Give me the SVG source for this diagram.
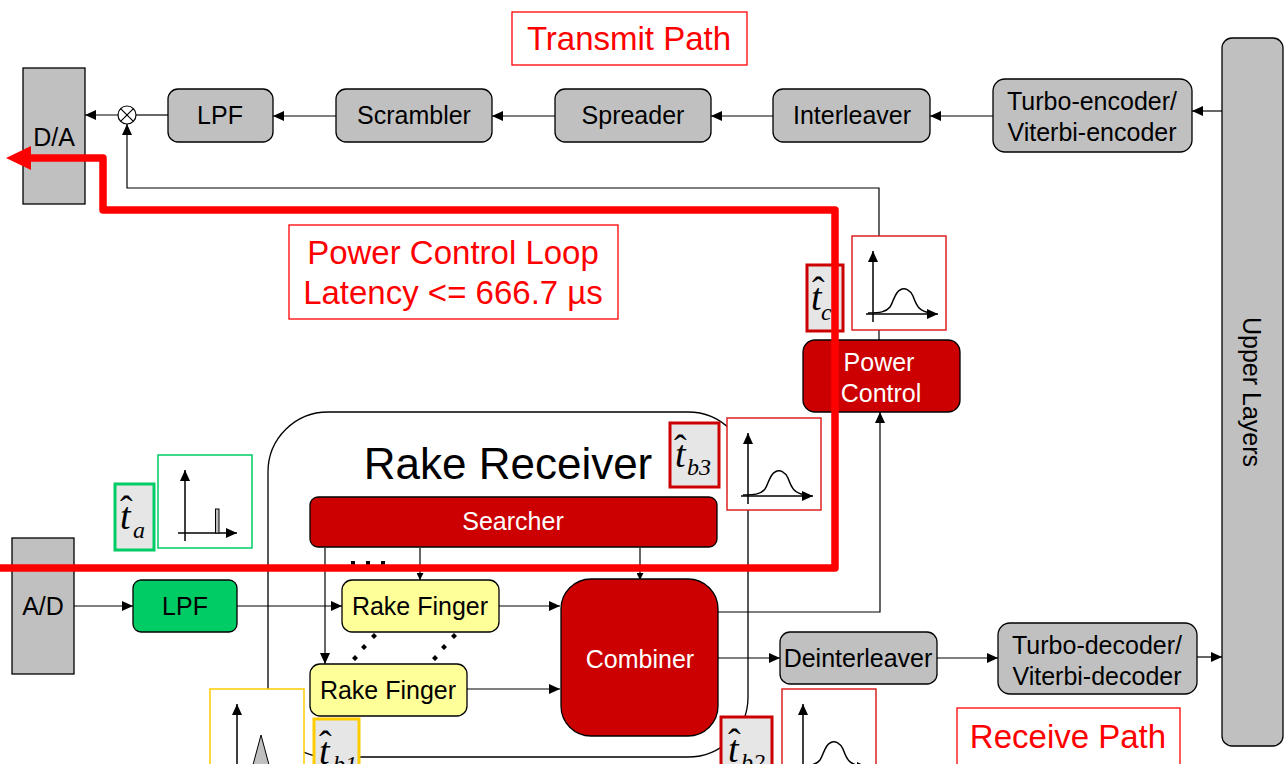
<svg xmlns="http://www.w3.org/2000/svg" width="1284" height="764" viewBox="0 0 1284 764">
<defs>
<style>
.box{fill:#c0c0c0;stroke:#000;stroke-width:1.3}
.dred{fill:#cc0000;stroke:#000;stroke-width:1.3}
.lbl{font-family:"Liberation Sans",Arial,sans-serif;font-size:25px;text-anchor:middle;fill:#000}
.wl{fill:#fff}
.rt{font-family:"Liberation Sans",Arial,sans-serif;font-size:33px;text-anchor:middle;fill:#ff0000}
.note{fill:#fff;stroke:#ff0000;stroke-width:1.3}
.wire{fill:none;stroke:#000;stroke-width:1.2}
.tb{fill:#e6e6e6;stroke-width:3}
.tv{font-family:"Liberation Serif","Times New Roman",serif;font-style:italic;font-size:38px;fill:#000}
.hat{font-family:"Liberation Serif","Times New Roman",serif;font-size:38px;fill:#000}
.ts{font-family:"Liberation Serif","Times New Roman",serif;font-style:italic;font-size:24px;fill:#000}
.gbox{fill:#fff;stroke-width:1.5}
.axis{stroke:#000;stroke-width:1.5;fill:none}
</style>
<marker id="arr" markerUnits="userSpaceOnUse" markerWidth="12" markerHeight="10" refX="11" refY="5" orient="auto"><path d="M0,0 L11,5 L0,10 z" fill="#000"/></marker>
<marker id="arrS" markerUnits="userSpaceOnUse" markerWidth="8" markerHeight="7" refX="7" refY="3.5" orient="auto"><path d="M0,0 L7,3.5 L0,7 z" fill="#000"/></marker>
<marker id="ax" markerUnits="userSpaceOnUse" markerWidth="12" markerHeight="10" refX="11" refY="5" orient="auto"><path d="M0,0 L11,5 L0,10 z" fill="#000"/></marker>
<!-- density plot with a smooth peak, drawn relative to its frame's top-left corner -->
<g id="bell">
<line class="axis" x1="21" y1="86" x2="21" y2="15" marker-end="url(#ax)"/>
<line class="axis" x1="14" y1="78" x2="86" y2="78" marker-end="url(#ax)"/>
<path class="axis" d="M16,77 C28,77 34,76 38,71 C41,67 43,56 48,54 C53,51 58,54 61,60 C64,68 66,76 80,77"/>
</g>
</defs>

<rect width="1284" height="764" fill="#fff"/>

<!-- Rake receiver enclosure -->
<g id="rake-receiver">
<rect x="268" y="412" width="480" height="345" rx="60" ry="60" fill="none" stroke="#000" stroke-width="1.3"/>
<text x="508" y="479" font-family="Liberation Sans,Arial,sans-serif" font-size="44" text-anchor="middle">Rake Receiver</text>
</g>

<!-- connectors -->
<g id="connectors">
<line class="wire" x1="118" y1="115" x2="85" y2="115" marker-end="url(#arr)"/>
<line class="wire" x1="168" y1="115" x2="136" y2="115"/>
<line class="wire" x1="336" y1="116" x2="273" y2="116" marker-end="url(#arr)"/>
<line class="wire" x1="555" y1="116" x2="492" y2="116" marker-end="url(#arr)"/>
<line class="wire" x1="773" y1="116" x2="711" y2="116" marker-end="url(#arr)"/>
<line class="wire" x1="993" y1="116" x2="930" y2="116" marker-end="url(#arr)"/>
<line class="wire" x1="1222" y1="111" x2="1192" y2="111" marker-end="url(#arr)"/>
<path class="wire" d="M879,340 V188 H127 V124" marker-end="url(#arr)"/>
<path class="wire" d="M718,612 H880 V412" marker-end="url(#arr)"/>
<line class="wire" x1="74" y1="606" x2="133" y2="606" marker-end="url(#arr)"/>
<line class="wire" x1="237" y1="606" x2="342" y2="606" marker-end="url(#arr)"/>
<line class="wire" x1="499" y1="606" x2="560" y2="606" marker-end="url(#arr)"/>
<line class="wire" x1="467" y1="689" x2="560" y2="689" marker-end="url(#arr)"/>
<line class="wire" x1="718" y1="658" x2="780" y2="658" marker-end="url(#arr)"/>
<line class="wire" x1="937" y1="658" x2="998" y2="658" marker-end="url(#arr)"/>
<line class="wire" x1="1197" y1="657" x2="1222" y2="657" marker-end="url(#arr)"/>
<line class="wire" x1="325" y1="548" x2="325" y2="664" marker-end="url(#arr)"/>
<line class="wire" x1="420" y1="548" x2="420" y2="580" marker-end="url(#arrS)"/>
<line class="wire" x1="640" y1="548" x2="640" y2="580" marker-end="url(#arrS)"/>
<!-- further fingers -->
<g fill="#000">
<rect x="351" y="561" width="4" height="4"/><rect x="366" y="561" width="4" height="4"/><rect x="381" y="561" width="4" height="4"/>
<path d="M374,633 l3,3 l-3,3 l-3,-3 z M364,644 l3,3 l-3,3 l-3,-3 z M355,655 l3,3 l-3,3 l-3,-3 z"/>
<path d="M454,633 l3,3 l-3,3 l-3,-3 z M444,644 l3,3 l-3,3 l-3,-3 z M435,655 l3,3 l-3,3 l-3,-3 z"/>
</g>
</g>

<!-- transmit chain -->
<g id="da"><rect class="box" x="23" y="68" width="62" height="136"/><text class="lbl" x="54" y="146">D/A</text></g>
<g id="mixer"><circle cx="127" cy="115" r="9" fill="#fff" stroke="#000" stroke-width="1.2"/><path d="M120.6,108.6 L133.4,121.4 M133.4,108.6 L120.6,121.4" stroke="#000" stroke-width="1.2"/></g>
<g id="tx-lpf"><rect class="box" x="168" y="89" width="105" height="53" rx="10"/><text class="lbl" x="220" y="124">LPF</text></g>
<g id="scrambler"><rect class="box" x="336" y="89" width="156" height="53" rx="10"/><text class="lbl" x="414" y="124">Scrambler</text></g>
<g id="spreader"><rect class="box" x="555" y="89" width="156" height="53" rx="10"/><text class="lbl" x="633" y="124">Spreader</text></g>
<g id="interleaver"><rect class="box" x="773" y="89" width="157" height="53" rx="10"/><text class="lbl" x="852" y="124">Interleaver</text></g>
<g id="encoder"><rect class="box" x="993" y="79" width="199" height="73" rx="12"/><text class="lbl" x="1092" y="110">Turbo-encoder/</text><text class="lbl" x="1092" y="141">Viterbi-encoder</text></g>
<g id="upper-layers"><rect class="box" x="1222" y="38" width="61" height="708" rx="10"/><text class="lbl" transform="translate(1243,392) rotate(90)" x="0" y="0">Upper Layers</text></g>

<!-- receive chain -->
<g id="ad"><rect class="box" x="12" y="538" width="62" height="136"/><text class="lbl" x="43" y="615">A/D</text></g>
<g id="rx-lpf"><rect x="133" y="580" width="104" height="52" rx="8" fill="#00cc66" stroke="#000" stroke-width="1.3"/><text class="lbl" x="185" y="615">LPF</text></g>
<g id="searcher"><rect class="dred" x="310" y="497" width="407" height="50" rx="8"/><text class="lbl wl" x="513" y="530" font-size="22">Searcher</text></g>
<g id="finger-1"><rect x="342" y="580" width="157" height="52" rx="10" fill="#ffff99" stroke="#000" stroke-width="1.3"/><text class="lbl" x="420" y="615">Rake Finger</text></g>
<g id="finger-2"><rect x="310" y="664" width="157" height="52" rx="10" fill="#ffff99" stroke="#000" stroke-width="1.3"/><text class="lbl" x="388" y="699">Rake Finger</text></g>
<g id="combiner"><rect class="dred" x="561" y="579" width="157" height="157" rx="30"/><text class="lbl wl" x="640" y="668">Combiner</text></g>
<g id="deinterleaver"><rect class="box" x="780" y="632" width="157" height="52" rx="10"/><text class="lbl" x="858" y="667">Deinterleaver</text></g>
<g id="decoder"><rect class="box" x="998" y="623" width="199" height="71" rx="12"/><text class="lbl" x="1097" y="654">Turbo-decoder/</text><text class="lbl" x="1097" y="685">Viterbi-decoder</text></g>
<g id="power-control"><rect class="dred" x="803" y="340" width="157" height="72" rx="12"/><text class="lbl wl" x="879" y="371">Power</text><text class="lbl wl" x="881" y="402">Control</text></g>

<!-- timing estimates and their distributions -->
<g id="est-a">
<rect class="tb" x="115" y="484" width="39" height="66" stroke="#00cc66"/>
<text class="hat" x="120" y="522">ˆ</text><text class="tv" x="120" y="529">t</text><text class="ts" x="133" y="538">a</text>
</g>
<g id="dist-a">
<rect class="gbox" x="158" y="455" width="94" height="93" stroke="#00cc66"/>
<line class="axis" x1="185" y1="541" x2="185" y2="470" marker-end="url(#ax)"/>
<line class="axis" x1="178" y1="533" x2="237" y2="533" marker-end="url(#ax)"/>
<rect x="215.5" y="509" width="3.5" height="24" fill="#c0c0c0" stroke="#000" stroke-width="1"/>
</g>
<g id="est-b3">
<rect class="tb" x="670" y="423" width="49" height="64" stroke="#cc0000"/>
<text class="hat" x="674" y="461">ˆ</text><text class="tv" x="675" y="467">t</text><text class="ts" x="687" y="475">b3</text>
</g>
<g id="dist-b3"><rect class="gbox" x="727" y="418" width="94" height="92" stroke="#dd2222"/><use href="#bell" x="727" y="418"/></g>
<g id="est-c">
<rect class="tb" x="807" y="265" width="36" height="66" stroke="#cc0000"/>
<text class="hat" x="812" y="303">ˆ</text><text class="tv" x="811" y="310">t</text><text class="ts" x="821" y="320">c</text>
</g>
<g id="dist-c"><rect class="gbox" x="852" y="236" width="94" height="94" stroke="#dd2222"/><use href="#bell" x="852" y="236"/></g>
<g id="dist-b1">
<rect class="gbox" x="210" y="689" width="94" height="90" stroke="#ffcc00"/>
<line class="axis" x1="237" y1="780" x2="237" y2="704" marker-end="url(#ax)"/>
<polygon points="261,735 250,776 272,776" fill="#c0c0c0" stroke="#000" stroke-width="1"/>
</g>
<g id="est-b1">
<rect class="tb" x="314" y="719" width="45" height="60" stroke="#ffcc00"/>
<text class="hat" x="319" y="757">ˆ</text><text class="tv" x="319" y="764">t</text><text class="ts" x="333" y="772">b1</text>
</g>
<g id="est-b2">
<rect class="tb" x="721" y="717" width="51" height="60" stroke="#cc0000"/>
<text class="hat" x="728" y="755">ˆ</text><text class="tv" x="728" y="762">t</text><text class="ts" x="741" y="770">b2</text>
</g>
<g id="dist-b2"><rect class="gbox" x="782" y="689" width="94" height="92" stroke="#dd2222"/><use href="#bell" x="782" y="689"/></g>

<!-- captions -->
<g id="tx-caption"><rect class="note" x="512" y="12" width="235" height="53"/><text class="rt" x="629" y="50">Transmit Path</text></g>
<g id="loop-caption"><rect class="note" x="289" y="225" width="329" height="94"/><text class="rt" x="453" y="264">Power Control Loop</text><text class="rt" x="453" y="304">Latency &lt;= 666.7 µs</text></g>
<g id="rx-caption"><rect class="note" x="957" y="708" width="223" height="70"/><text class="rt" x="1068" y="748">Receive Path</text></g>

<!-- power control loop highlight -->
<g id="loop-path">
<path d="M30,158 H103 V210 H835 V568 H0" fill="none" stroke="#ff0000" stroke-width="7.5" stroke-linejoin="round"/>
<polygon points="6,158 31,146 31,170" fill="#ff0000"/>
</g>
</svg>
